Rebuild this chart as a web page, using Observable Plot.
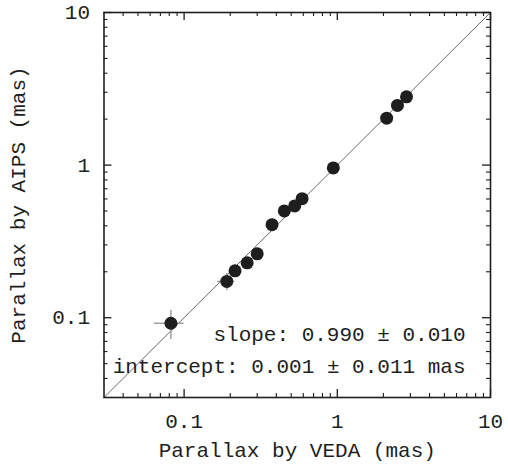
<!DOCTYPE html>
<html>
<head>
<meta charset="utf-8">
<script src="https://cdn.jsdelivr.net/npm/d3@7"></script>
<script src="https://cdn.jsdelivr.net/npm/@observablehq/plot@0.6"></script>
<style>
  html, body { margin: 0; padding: 0; background: #fff; }
  #chart svg { display: block; }
</style>
</head>
<body>
<div id="chart"></div>
<script>
// Parallax values (mas)
const veda = [0.082, 0.190, 0.215, 0.258, 0.300, 0.375, 0.451, 0.527, 0.589, 0.942, 2.10, 2.47, 2.83];
const aips = [0.092, 0.173, 0.203, 0.229, 0.262, 0.407, 0.501, 0.540, 0.603, 0.959, 2.03, 2.46, 2.80];
const vedaErr = [0.018, 0.024, 0.010, 0.010, 0.010, 0.010, 0.010, 0.010, 0.010, 0.020, 0.03, 0.03, 0.03];
const aipsErr = [0.020, 0.022, 0.010, 0.010, 0.010, 0.010, 0.010, 0.010, 0.010, 0.020, 0.03, 0.03, 0.03];

const majorTicks = [0.1, 1, 10];
const minorTicks = [0.04, 0.05, 0.06, 0.07, 0.08, 0.09,
                    0.2, 0.3, 0.4, 0.5, 0.6, 0.7, 0.8, 0.9,
                    2, 3, 4, 5, 6, 7, 8, 9];
const tickLabels = ["0.1", "1", "10"];
const diagonal = [0.03, 10];
const domain = [0.03, 10];
const xLabel = "Parallax by VEDA (mas)";
const yLabel = "Parallax by AIPS (mas)";
const annotations = ["slope: 0.990 \u00b1 0.010", "intercept: 0.001 \u00b1 0.011 mas"];

const points = veda.map((v, i) => ({x: v, y: aips[i], ex: vedaErr[i], ey: aipsErr[i]}));
const labelRows = majorTicks.map((t, i) => ({t, label: tickLabels[i]}));

const W = 508, H = 471;
const mL = 103.5, mR = 18, mT = 12, mB = 74;
const pw = W - mL - mR, ph = H - mT - mB;
const font = "'Liberation Mono', 'Courier New', monospace";
const fs = 21;
const ink = "#1e1e1e";
const majLen = 8, minLen = 4;

const chart = Plot.plot({
  width: W,
  height: H,
  marginLeft: mL,
  marginRight: mR,
  marginTop: mT,
  marginBottom: mB,
  style: {fontFamily: font, fontSize: fs + "px", color: ink, background: "#fff"},
  x: {type: "log", domain, axis: null},
  y: {type: "log", domain, axis: null},
  marks: [
    // diagonal y = x
    Plot.line(diagonal, {x: d => d, y: d => d, stroke: "#444", strokeWidth: 0.8}),
    // error bars
    Plot.ruleY(points, {y: "y", x1: d => d.x - d.ex, x2: d => d.x + d.ex, stroke: "#8a8a8a", strokeWidth: 1.2}),
    Plot.ruleX(points, {x: "x", y1: d => d.y - d.ey, y2: d => d.y + d.ey, stroke: "#8a8a8a", strokeWidth: 1.2}),
    // points
    Plot.dot(points, {x: "x", y: "y", r: 6.5, fill: ink, stroke: "none"}),
    // inward ticks: bottom, top (x) and left, right (y)
    Plot.tickX(majorTicks, {x: d => d, insetTop: ph - majLen, stroke: ink, strokeWidth: 1.3}),
    Plot.tickX(majorTicks, {x: d => d, insetBottom: ph - majLen, stroke: ink, strokeWidth: 1.3}),
    Plot.tickX(minorTicks, {x: d => d, insetTop: ph - minLen, stroke: ink, strokeWidth: 1.1}),
    Plot.tickX(minorTicks, {x: d => d, insetBottom: ph - minLen, stroke: ink, strokeWidth: 1.1}),
    Plot.tickY(majorTicks, {y: d => d, insetRight: pw - majLen, stroke: ink, strokeWidth: 1.3}),
    Plot.tickY(majorTicks, {y: d => d, insetLeft: pw - majLen, stroke: ink, strokeWidth: 1.3}),
    Plot.tickY(minorTicks, {y: d => d, insetRight: pw - minLen, stroke: ink, strokeWidth: 1.1}),
    Plot.tickY(minorTicks, {y: d => d, insetLeft: pw - minLen, stroke: ink, strokeWidth: 1.1}),
    // frame
    Plot.frame({stroke: ink, strokeWidth: 1.6}),
    // tick labels
    Plot.text(labelRows, {x: "t", text: "label", frameAnchor: "bottom", lineAnchor: "bottom", dy: 30, fill: ink, fontSize: fs}),
    Plot.text(labelRows, {y: "t", text: "label", frameAnchor: "left", textAnchor: "end", lineAnchor: "middle", dx: -14, fill: ink, fontSize: fs}),
    // axis labels
    Plot.text([xLabel], {text: d => d, frameAnchor: "bottom", lineAnchor: "bottom", dy: 59, fill: ink, fontSize: fs}),
    Plot.text([yLabel], {text: d => d, frameAnchor: "left", textAnchor: "middle", rotate: -90, lineAnchor: "middle", dx: -85.5, fill: ink, fontSize: fs}),
    // fit annotations
    Plot.text([annotations[0]], {text: d => d, frameAnchor: "bottom-right", textAnchor: "end", lineAnchor: "bottom", dx: -25, dy: -57, fill: ink, fontSize: fs}),
    Plot.text([annotations[1]], {text: d => d, frameAnchor: "bottom-right", textAnchor: "end", lineAnchor: "bottom", dx: -25, dy: -25, fill: ink, fontSize: fs})
  ]
});
document.getElementById("chart").appendChild(chart);
</script>
</body>
</html>
